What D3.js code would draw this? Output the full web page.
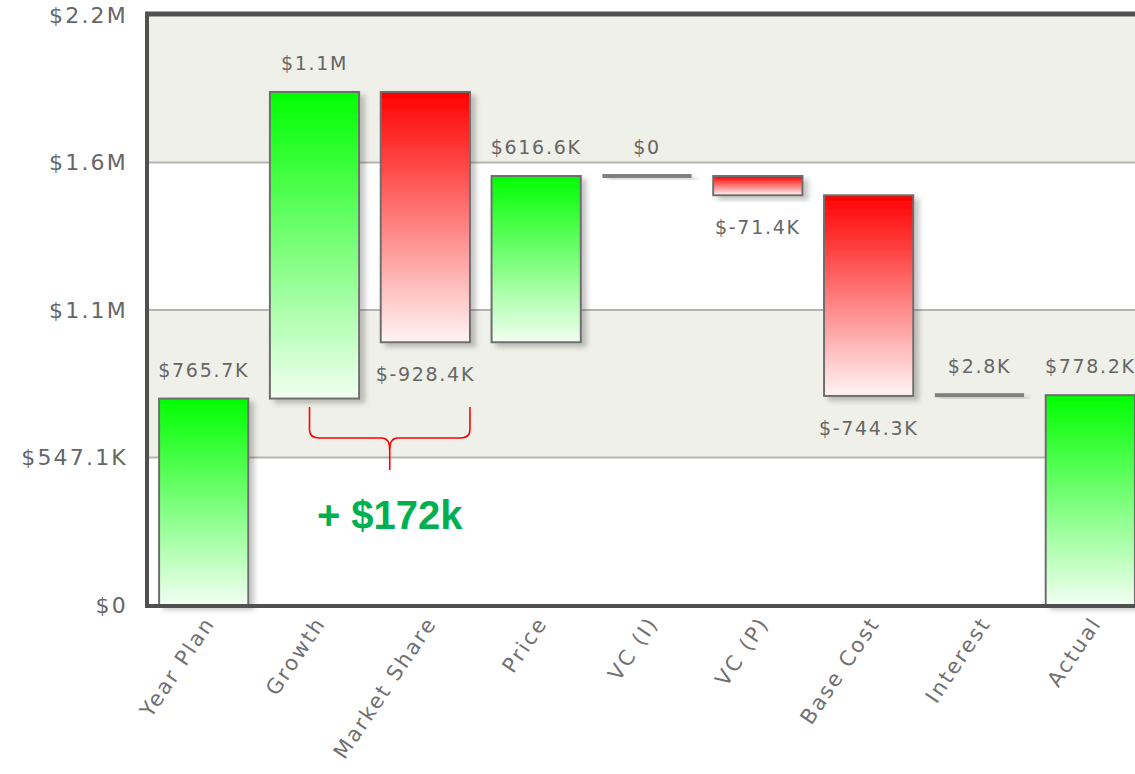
<!DOCTYPE html>
<html><head><meta charset="utf-8">
<script src="https://cdn.jsdelivr.net/npm/d3@7"></script>
<style>body{margin:0;background:#fff;}svg{display:block;}</style>
</head><body>
<svg id="chart" width="1135" height="774"></svg>
<script>
// ---- data (values in $K) ----
const categories = ["Year Plan","Growth","Market Share","Price","VC (I)","VC (P)","Base Cost","Interest","Actual"];
const values     = [765.7, 1137.2, -928.4, 616.6, 0, -71.4, -744.3, 2.8, 778.2];
const kinds      = ["total","delta","delta","delta","delta","delta","delta","delta","total"];
const yTicks     = [0, 547.1, 1094.2, 1641.3, 2188.4];
const annotationText = "+ $172k";
const bracketFrom = "Growth", bracketTo = "Market Share";

const svg = d3.select("#chart");
const W = 1135, H = 774;
const plot = {left:148, right:1146, top:15, bottom:605};

const x = d3.scaleBand().domain(categories).range([plot.left, plot.right]).paddingInner(0.195).paddingOuter(0.1);
const y = d3.scaleLinear().domain([0, yTicks[yTicks.length-1]]).range([plot.bottom, plot.top]);

function fmt(v){
  if (v === 0) return "$0";
  const a = Math.abs(v);
  if (a >= 1000) return "$" + (v/1000).toFixed(1) + "M";
  return "$" + v.toFixed(1) + "K";
}

// compute waterfall
let run = 0;
const bars = categories.map((c,i)=>{
  const v = values[i];
  let y0, y1;
  if (kinds[i] === "total") { y0 = 0; y1 = v; run = v; }
  else { y0 = run; y1 = run + v; run = y1; }
  return {cat:c, v, y0, y1, kind:kinds[i]};
});

const defs = svg.append("defs");
const gG = defs.append("linearGradient").attr("id","gGreen").attr("x1",0).attr("y1",0).attr("x2",0).attr("y2",1);
gG.append("stop").attr("offset","0%").attr("stop-color","#00ff00");
gG.append("stop").attr("offset","100%").attr("stop-color","#f2fff2");
const gR = defs.append("linearGradient").attr("id","gRed").attr("x1",0).attr("y1",0).attr("x2",0).attr("y2",1);
gR.append("stop").attr("offset","0%").attr("stop-color","#ff0000");
gR.append("stop").attr("offset","100%").attr("stop-color","#fff4f4");
const sh = defs.append("filter").attr("id","shadow").attr("x","-20%").attr("y","-20%").attr("width","150%").attr("height","150%");
sh.append("feDropShadow").attr("dx",5).attr("dy",4).attr("stdDeviation",2.5).attr("flood-color","#000").attr("flood-opacity",0.22);

// bands
for (let i=0;i<yTicks.length-1;i++){
  svg.append("rect")
    .attr("x", plot.left).attr("width", W - plot.left)
    .attr("y", y(yTicks[i+1])).attr("height", y(yTicks[i]) - y(yTicks[i+1]))
    .attr("fill", i % 2 === 1 ? "#f0f0ea" : "#ffffff");
}
// gridlines
svg.append("g").selectAll("line").data(yTicks.slice(1,-1)).join("line")
  .attr("x1", plot.left).attr("x2", W)
  .attr("y1", d=>y(d)).attr("y2", d=>y(d))
  .attr("stroke","#b5b5b0").attr("stroke-width",2);

// bars
const bg = svg.append("g");
bars.forEach(b=>{
  const bx = x(b.cat), bw = x.bandwidth();
  if (b.v === 0 || Math.abs(y(b.y0)-y(b.y1)) < 3) {
    bg.append("rect").attr("x", bx).attr("width", bw)
      .attr("y", y(b.y1) - 2).attr("height", 4)
      .attr("fill","#808080").attr("filter","url(#shadow)");
  } else {
    const top = y(Math.max(b.y0,b.y1)), bot = y(Math.min(b.y0,b.y1));
    bg.append("rect").attr("x", bx).attr("width", bw)
      .attr("y", top).attr("height", bot-top)
      .attr("fill", b.v >= 0 ? "url(#gGreen)" : "url(#gRed)")
      .attr("stroke","#6e6e6e").attr("stroke-width",2)
      .attr("filter","url(#shadow)");
  }
});

// value labels
const lg = svg.append("g").attr("font-family","DejaVu Sans, Verdana, sans-serif")
  .attr("font-size",19).attr("fill","#666").attr("letter-spacing","1.7px").attr("text-anchor","middle");
bars.forEach(b=>{
  const cx = x(b.cat) + x.bandwidth()/2;
  let ty;
  if (b.v >= 0) ty = y(Math.max(b.y0,b.y1)) - 22;
  else ty = y(Math.min(b.y0,b.y1)) + 39;
  lg.append("text").attr("x", cx).attr("y", ty).text(fmt(b.v));
});

// axes frame
svg.append("line").attr("x1", plot.left-1).attr("x2", plot.left-1).attr("y1", plot.top-3).attr("y2", plot.bottom+2)
  .attr("stroke","#505050").attr("stroke-width",4);
svg.append("line").attr("x1", plot.left-3).attr("x2", W).attr("y1", plot.top-1).attr("y2", plot.top-1)
  .attr("stroke","#505050").attr("stroke-width",5);
svg.append("line").attr("x1", plot.left-3).attr("x2", W).attr("y1", plot.bottom+1).attr("y2", plot.bottom+1)
  .attr("stroke","#505050").attr("stroke-width",4);

// y axis
const yAxis = d3.axisLeft(y).tickValues(yTicks).tickSize(0).tickPadding(17).tickFormat(fmt);
const ya = svg.append("g").attr("transform",`translate(${plot.left-3},0)`).call(yAxis);
ya.select(".domain").remove();
ya.selectAll("text").attr("font-family","DejaVu Sans, Verdana, sans-serif").attr("font-size",22)
  .attr("fill","#666").attr("letter-spacing","2.2px");

// x axis
const xAxis = d3.axisBottom(x).tickSize(0).tickPadding(0);
const xa = svg.append("g").attr("transform",`translate(0,${plot.bottom})`).call(xAxis);
xa.select(".domain").remove();
xa.selectAll("text").attr("font-family","DejaVu Sans, Verdana, sans-serif").attr("font-size",21)
  .attr("fill","#707070").attr("letter-spacing","2.2px")
  .attr("text-anchor","end").attr("dy",null)
  .attr("transform","translate(12,18) rotate(-56)");

// bracket annotation
const bx1 = x(bracketFrom) + x.bandwidth()/2 - 5, bx2 = x(bracketTo) + x.bandwidth();
const bxm = (bx1+bx2)/2;
const by0 = 407, by1 = 438, by2 = 470;
const path = `M${bx1},${by0} L${bx1},${by1-8} Q${bx1},${by1} ${bx1+10},${by1} L${bxm-8},${by1} Q${bxm},${by1} ${bxm},${by1+12} L${bxm},${by2}
 M${bx2},${by0} L${bx2},${by1-8} Q${bx2},${by1} ${bx2-10},${by1} L${bxm+8},${by1} Q${bxm},${by1} ${bxm},${by1+12}`;
svg.append("path").attr("d", path).attr("fill","none").attr("stroke","#ff0000").attr("stroke-width",1.6);
svg.append("text").attr("x", bxm).attr("y", 529).attr("text-anchor","middle")
  .attr("font-family","Liberation Sans, Arial, sans-serif").attr("font-weight","bold").attr("font-size",40)
  .attr("fill","#00b050").text(annotationText);
</script>
</body></html>
